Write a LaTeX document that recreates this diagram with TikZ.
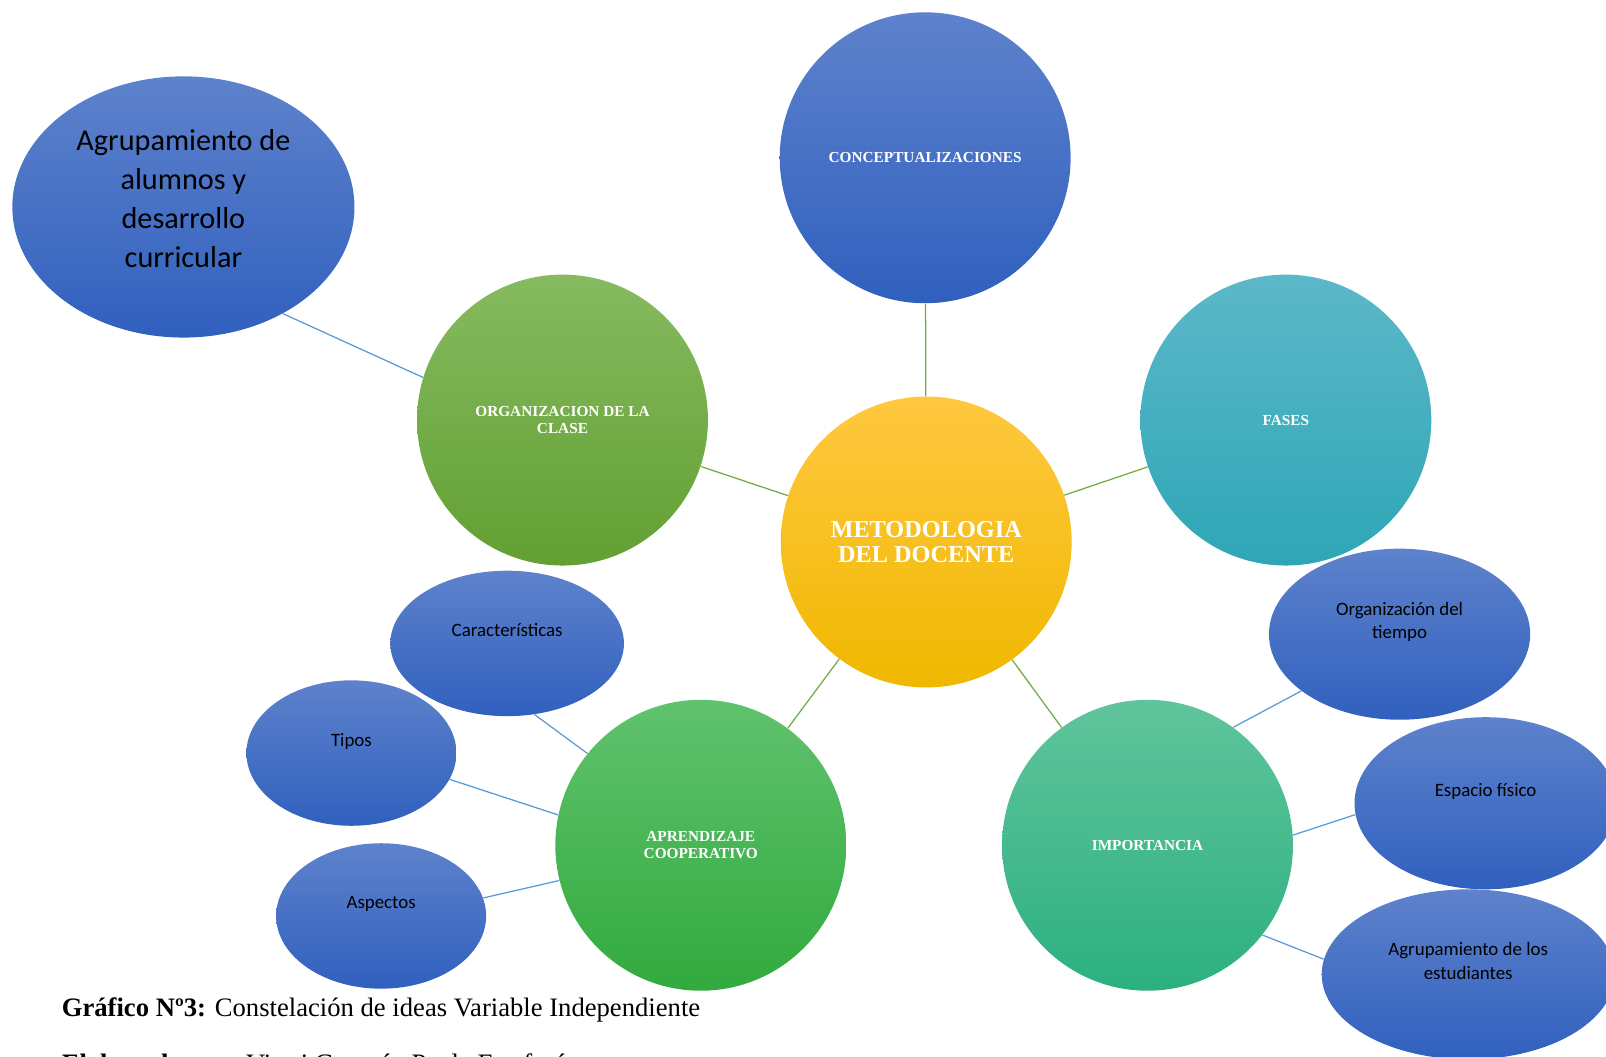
\documentclass[tikz,border=0pt]{standalone}
\usepackage{fontspec}
\setmainfont{Liberation Serif}
\newfontfamily\calibri{Carlito}
\usetikzlibrary{shapes.geometric}

\definecolor{bluetop}{RGB}{94,130,204}
\definecolor{bluebot}{RGB}{48,96,190}
\definecolor{goldtop}{RGB}{255,200,64}
\definecolor{goldbot}{RGB}{240,184,0}
\definecolor{leaftop}{RGB}{134,186,96}
\definecolor{leafbot}{RGB}{98,160,50}
\definecolor{tealtop}{RGB}{92,184,200}
\definecolor{tealbot}{RGB}{46,166,182}
\definecolor{grasstop}{RGB}{96,194,110}
\definecolor{grassbot}{RGB}{50,170,62}
\definecolor{minttop}{RGB}{96,196,156}
\definecolor{mintbot}{RGB}{44,176,128}
\definecolor{hubline}{RGB}{112,173,71}
\definecolor{twigline}{RGB}{91,155,213}

\begin{document}
\begin{tikzpicture}[x=0.02cm, y=-0.02cm,
    bubble/.style={circle, minimum size=5.68cm, inner sep=0pt, text=white, align=center,
        font=\bfseries\fontsize{8.5}{9.2}\selectfont},
    leaf/.style={ellipse, inner sep=0pt, align=center, text depth=15pt,
        top color=bluetop, bottom color=bluebot,
        font=\calibri\fontsize{10.5}{13}\selectfont},
    hub/.style={draw=hubline, line width=0.7pt},
    twig/.style={draw=twigline, line width=0.7pt}]
    \useasboundingbox (0,0) rectangle (1567.5,1031.5);
    \clip (0,0) rectangle (1567.5,1031.5);

    % the centre and its five circles
    \node[bubble, top color=goldtop, bottom color=goldbot,
        font=\bfseries\fontsize{13.5}{14.2}\selectfont] (meto) at (904,529) {METODOLOGIA\\DEL DOCENTE};
    \node[bubble, top color=bluetop, bottom color=bluebot] (conc) at (903,154) {CONCEPTUALIZACIONES};
    \node[bubble, top color=tealtop, bottom color=tealbot] (fases) at (1255,410) {FASES};
    \node[bubble, top color=leaftop, bottom color=leafbot] (orga) at (549,410) {ORGANIZACION DE LA\\CLASE};
    \node[bubble, top color=grasstop, bottom color=grassbot] (apre) at (684,825) {APRENDIZAJE\\COOPERATIVO};
    \node[bubble, top color=minttop, bottom color=mintbot] (impo) at (1120,825) {IMPORTANCIA};

    % the blue ellipses round them
    \node[leaf, minimum width=6.68cm, minimum height=5.1cm, text depth=9.5pt,
        font=\calibri\fontsize{16.8}{21.6}\selectfont] (agal) at (179,202)
        {Agrupamiento de\\alumnos y\\desarrollo\\curricular};
    \node[leaf, minimum width=4.56cm, minimum height=2.84cm] (cara) at (495,628) {Características};
    \node[leaf, minimum width=4.1cm, minimum height=2.84cm] (tipo) at (343,735) {Tipos};
    \node[leaf, minimum width=4.1cm, minimum height=2.84cm] (aspe) at (372,894) {Aspectos};
    \node[leaf, minimum width=5.1cm, minimum height=3.34cm] (tiem) at (1366,619) {Organización del\\tiempo};
    \node[leaf, minimum width=5.12cm, minimum height=3.36cm] (espa) at (1450,784) {Espacio físico};
    \node[leaf, minimum width=5.72cm, minimum height=3.32cm] (agrp) at (1433,951) {Agrupamiento de los\\estudiantes};

    % connectors
    \draw[hub] (meto) -- (conc);
    \draw[hub] (meto) -- (fases);
    \draw[hub] (meto) -- (orga);
    \draw[hub] (meto) -- (apre);
    \draw[hub] (meto) -- (impo);
    \draw[twig] (agal.-47) -- (orga.163);
    \draw[twig] (cara.-69) -- (apre.141);
    \draw[twig] (tipo.-15) -- (apre.168);
    \draw[twig] (aspe.10) -- (apre.194);
    \draw[twig] (impo.54) -- (tiem.210);
    \draw[twig] (impo.4) -- (espa.185);
    \draw[twig] (impo.-38) -- (agrp.174);

    % caption
    \node[anchor=base west, inner sep=0pt, font=\fontsize{14.8}{17}\selectfont] (capt) at (60,992)
        {\textbf{Gráfico Nº3:} Constelación de ideas Variable Independiente};
    \node[anchor=base west, inner sep=0pt, font=\fontsize{14.8}{17}\selectfont] (autor) at (60,1047)
        {\textbf{Elaborado por:} Vitori Guamán Paola Estefanía};
\end{tikzpicture}
\end{document}
